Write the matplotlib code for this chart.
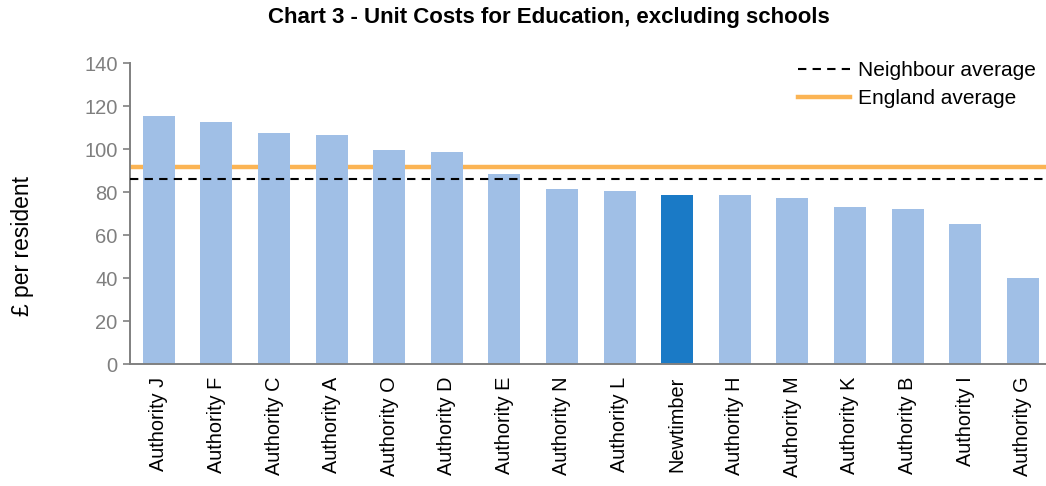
import matplotlib.pyplot as plt

# Unit costs per resident, sorted high to low
authorities = ['Authority J', 'Authority F', 'Authority C', 'Authority A', 'Authority O',
               'Authority D', 'Authority E', 'Authority N', 'Authority L', 'Newtimber',
               'Authority H', 'Authority M', 'Authority K', 'Authority B', 'Authority I',
               'Authority G']
costs = [115.5, 112.6, 107.6, 106.5, 99.5, 98.5, 88.4, 81.4, 80.3, 78.5,
         78.5, 77.4, 73.3, 72.3, 65.3, 40.2]
highlight = 'Newtimber'

neighbour_avg = 86.2
england_avg = 91.5

light_blue = '#A0BFE6'
dark_blue = '#1A7AC6'
orange = '#FBB454'
grey = '#808080'

plt.rcParams['font.family'] = ['Liberation Sans', 'DejaVu Sans']

fig = plt.figure(figsize=(10.46, 4.86), dpi=100)
ax = fig.add_axes([0.1243, 0.251, 0.881, 0.619])

colors = [dark_blue if a == highlight else light_blue for a in authorities]
x = range(len(authorities))
ax.bar(x, costs, width=0.555, color=colors, zorder=2)

ax.axhline(neighbour_avg, color='black', linestyle=(0, (4, 3)), linewidth=1.5, zorder=3,
           label='Neighbour average')
ax.axhline(england_avg, color=orange, linewidth=3.2, zorder=1, label='England average')

ax.set_xlim(-0.5, len(authorities) - 0.5)
ax.set_ylim(0, 140)
ax.set_yticks(range(0, 141, 20))
ax.set_xticks(list(x))
ax.set_xticklabels(authorities, rotation=90, fontsize=14.3)
ax.tick_params(axis='x', length=0, pad=9)
ax.tick_params(axis='y', direction='out', length=5, width=1.2, color=grey,
               labelcolor='#7F7F7F', labelsize=14.5, pad=4)

for side in ['top', 'right']:
    ax.spines[side].set_visible(False)
for side in ['left', 'bottom']:
    ax.spines[side].set_color(grey)
    ax.spines[side].set_linewidth(1.4)

ax.set_ylabel('£ per resident', fontsize=16.5)
ax.yaxis.set_label_coords(-0.104, 0.392)

ax.legend(loc='upper left', bbox_to_anchor=(0.716, 1.035), frameon=False, fontsize=15,
          handlelength=2.5, handletextpad=0.35, labelspacing=0.44, borderaxespad=0)

fig.text(0.525, 0.965, 'Chart 3 - Unit Costs for Education, excluding schools',
         fontsize=16, fontweight='bold', ha='center', va='center')

fig.savefig('out.png', dpi=100)
